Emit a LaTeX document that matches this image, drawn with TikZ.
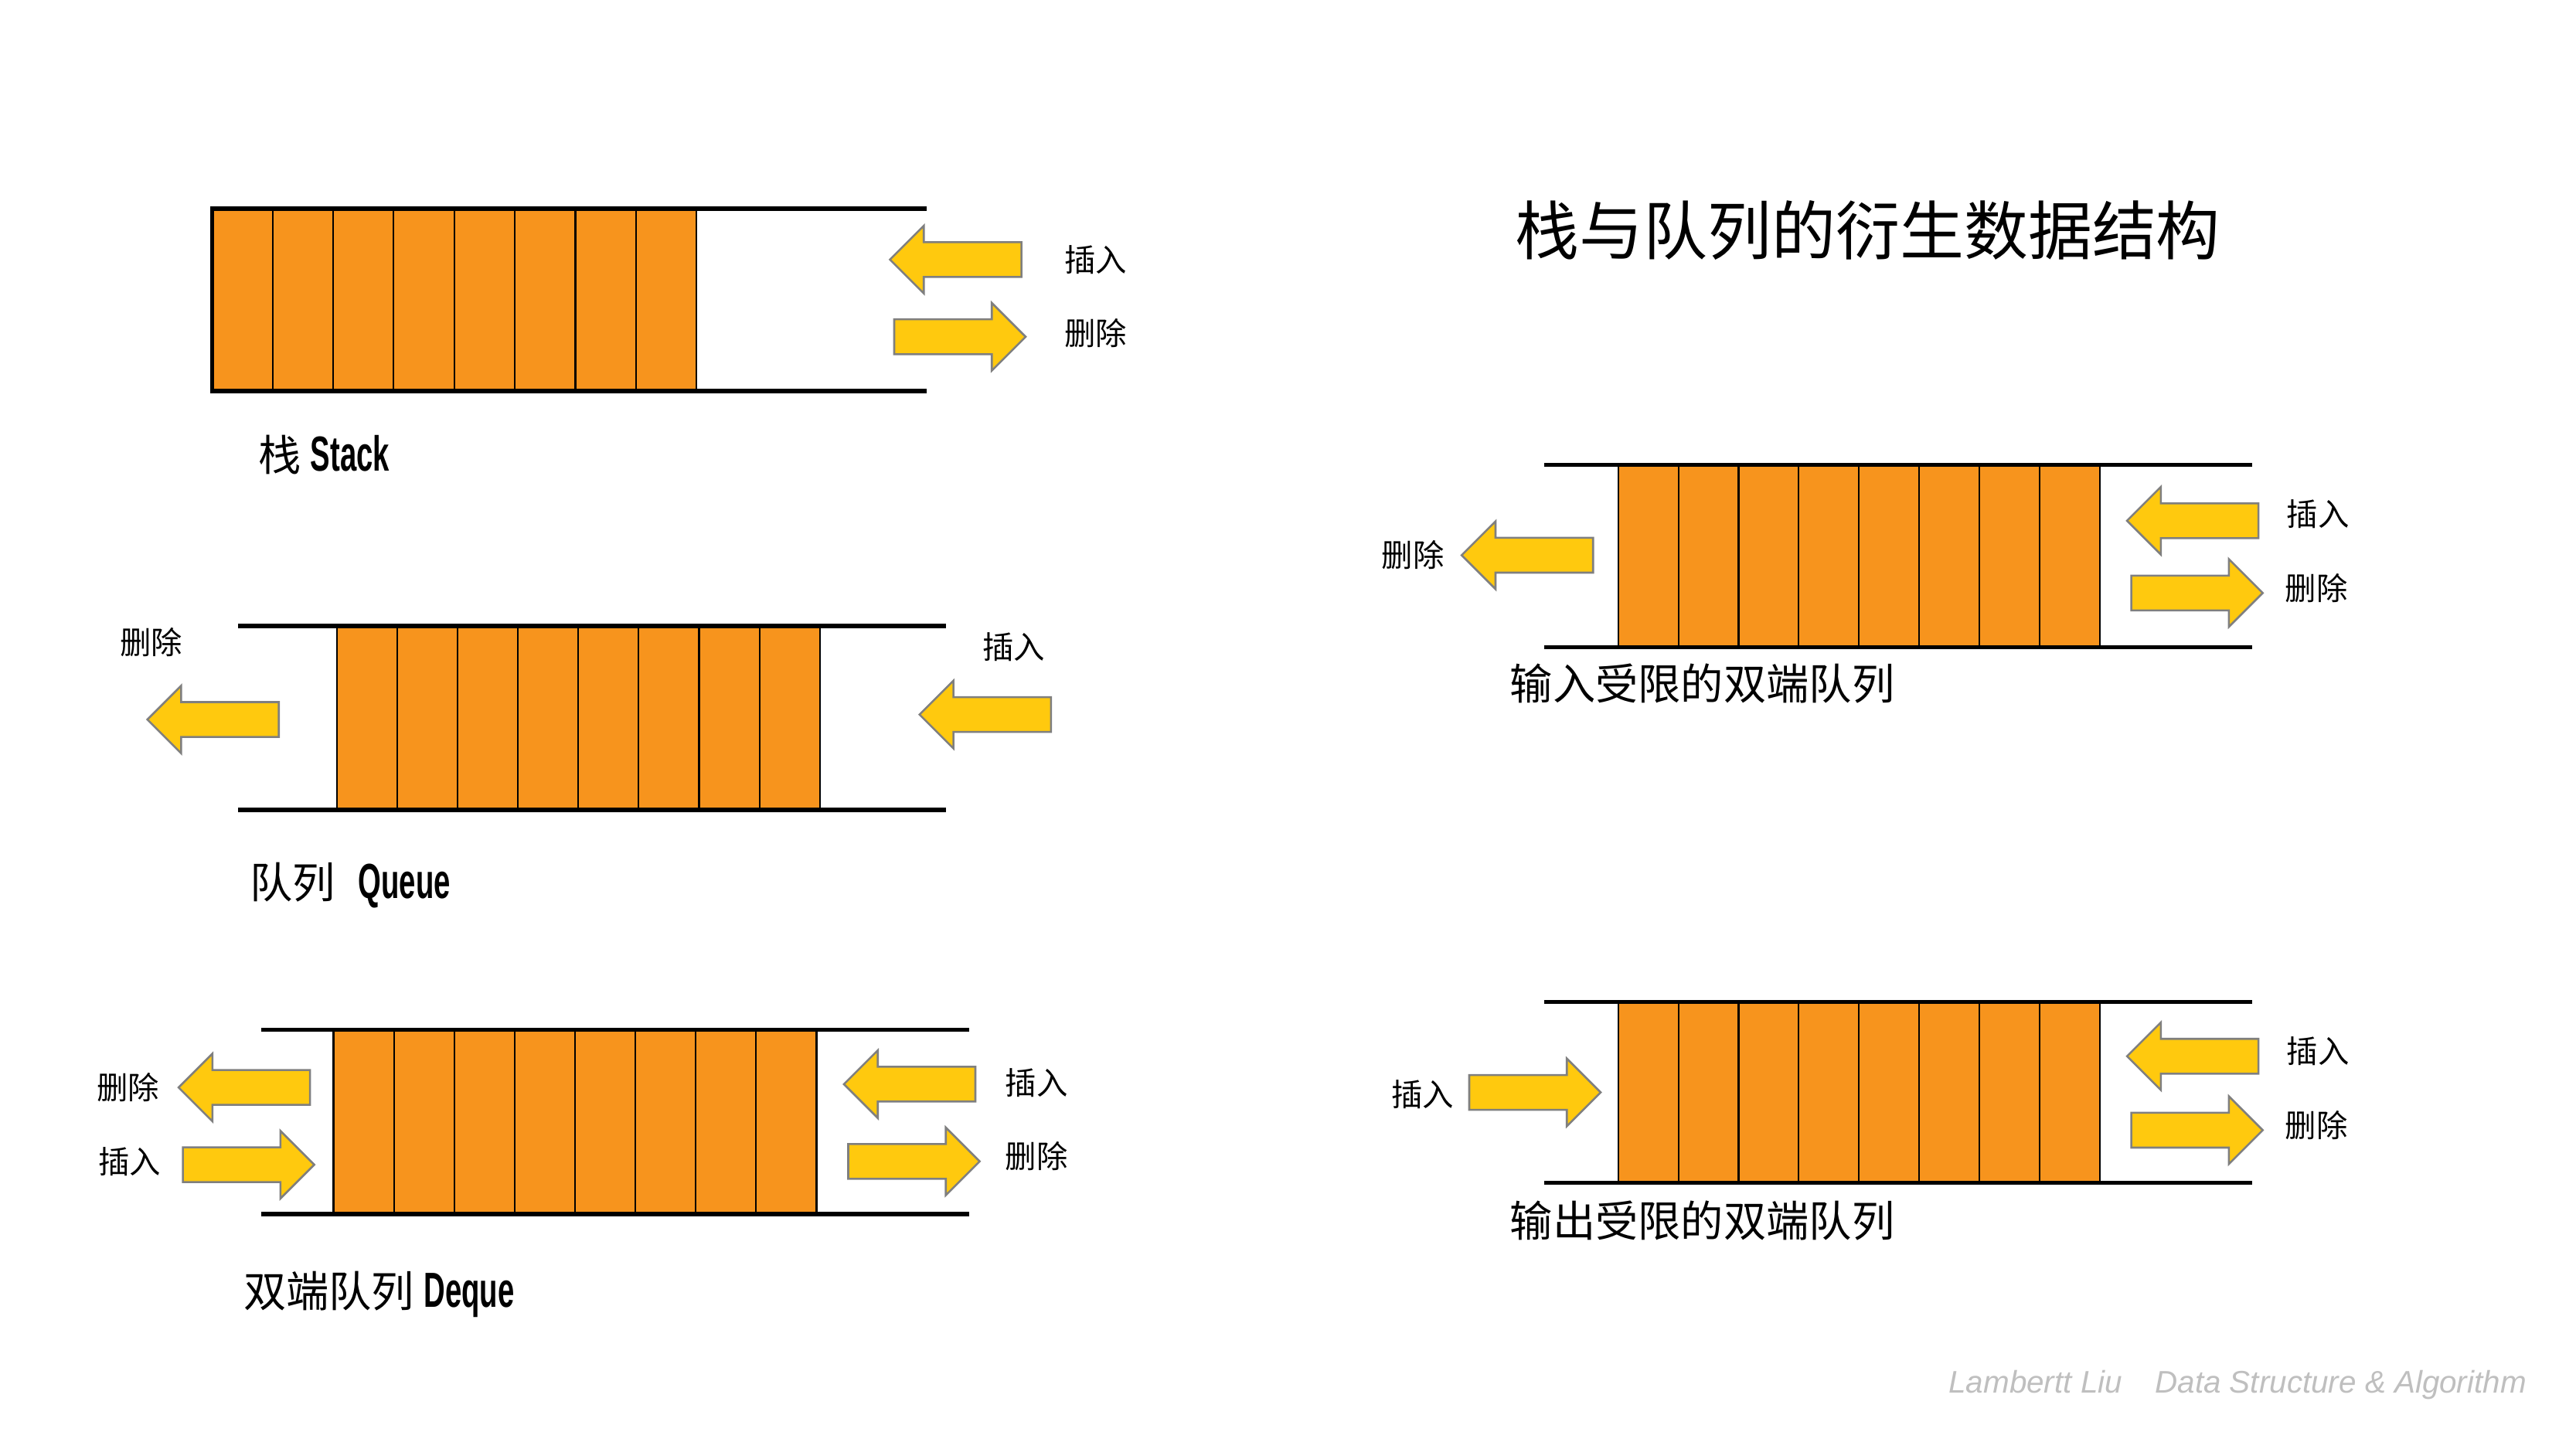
\documentclass[tikz,border=0pt]{standalone}
\usepackage{fontspec}
\setmainfont{Liberation Sans}
\newfontfamily\cjk{Noto Sans CJK SC}
\newfontfamily\condfont[FakeStretch=0.6]{Liberation Sans}
\usetikzlibrary{shapes.arrows}

\definecolor{cellorange}{HTML}{F7941D}
\definecolor{arrowyellow}{HTML}{FFC90E}
\definecolor{arrowgray}{HTML}{7F7F7F}

\begin{document}
\begin{tikzpicture}[x=1pt, y=-1pt]

\tikzset{
  cell/.style={fill=cellorange, draw=black, line width=1pt},
  rail/.style={draw=black, line width=2.5pt},
  barrow/.style={
    single arrow, draw=arrowgray, fill=arrowyellow, line width=1.2pt,
    minimum height=80pt, inner sep=10pt,
    single arrow head extend=10pt, single arrow tip angle=90,
    single arrow head indent=0pt
  },
  lbl/.style={font=\cjk\fontsize{19}{19}\selectfont, inner sep=0pt},
  caption/.style={font=\cjk\fontsize{26}{26}\selectfont, inner sep=0pt, anchor=west}
}

\fill[white] (0,0) rectangle (1568,882);
\useasboundingbox (0,0) rectangle (1568,882);

% =========================================================
% Stack
% =========================================================
\foreach \i in {0,...,7}
  \draw[cell] ({129+\i*36.875},127) rectangle ({129+(\i+1)*36.875},238);
\draw[rail, line join=miter] (564,127) -- (129,127) -- (129,238) -- (564,238);

\node[barrow, shape border rotate=180] (sIns) at (587,158) {};
\node[barrow] (sDel) at (579,205) {};
\node[lbl] (sInsL) at (667,158) {插入};
\node[lbl] (sDelL) at (667,203) {删除};
\node[caption] (sCap) at (157,277) {栈 {\condfont\bfseries\fontsize{30}{30}\selectfont Stack}};

% =========================================================
% Queue
% =========================================================
\foreach \i in {0,...,7}
  \draw[cell] ({205+\i*36.75},381) rectangle ({205+(\i+1)*36.75},493);
\draw[rail] (145,381) -- (576,381);
\draw[rail] (145,493) -- (576,493);

\node[barrow, shape border rotate=180] (qDel) at (135,438) {};
\node[barrow, shape border rotate=180] (qIns) at (605,435) {};
\node[lbl] (qDelL) at (92,391) {删除};
\node[lbl] (qInsL) at (617,394) {插入};
\node[caption] (qCap) at (152,539) {队列\hspace{14pt}{\condfont\bfseries\fontsize{30}{30}\selectfont Queue}};

% =========================================================
% Deque
% =========================================================
\foreach \i in {0,...,7}
  \draw[cell] ({203+\i*36.75},627) rectangle ({203+(\i+1)*36.75},739);
\draw[rail] (159,627) -- (590,627);
\draw[rail] (159,739) -- (590,739);

\node[barrow, shape border rotate=180] (dDelA) at (154,662) {};
\node[barrow] (dInsA) at (146,709) {};
\node[barrow, shape border rotate=180] (dInsB) at (559,660) {};
\node[barrow] (dDelB) at (551,707) {};
\node[lbl] (dDelAL) at (78,662) {删除};
\node[lbl] (dInsAL) at (79,707) {插入};
\node[lbl] (dInsBL) at (631,659) {插入};
\node[lbl] (dDelBL) at (631,704) {删除};
\node[caption] (dCap) at (148,788) {双端队列 {\condfont\bfseries\fontsize{30}{30}\selectfont Deque}};

% =========================================================
% Title
% =========================================================
\node[font=\cjk\fontsize{39}{39}\selectfont, inner sep=0pt] (title) at (1137,140) {栈与队列的衍生数据结构};

% =========================================================
% Input-restricted deque
% =========================================================
\foreach \i in {0,...,7}
  \draw[cell] ({985+\i*36.625},283) rectangle ({985+(\i+1)*36.625},394);
\draw[rail] (940,283) -- (1371,283);
\draw[rail] (940,394) -- (1371,394);

\node[barrow, shape border rotate=180] (iDel) at (935,338) {};
\node[barrow, shape border rotate=180] (iIns) at (1340,317) {};
\node[barrow] (iDelB) at (1332,361) {};
\node[lbl] (iDelL) at (860,338) {删除};
\node[lbl] (iInsL) at (1411,313) {插入};
\node[lbl] (iDelBL) at (1410,358) {删除};
\node[caption] (iCap) at (919,416) {输入受限的双端队列};

% =========================================================
% Output-restricted deque
% =========================================================
\foreach \i in {0,...,7}
  \draw[cell] ({985+\i*36.625},610) rectangle ({985+(\i+1)*36.625},720);
\draw[rail] (940,610) -- (1371,610);
\draw[rail] (940,720) -- (1371,720);

\node[barrow] (oIns) at (929,665) {};
\node[barrow, shape border rotate=180] (oInsB) at (1340,643) {};
\node[barrow] (oDel) at (1332,688) {};
\node[lbl] (oInsL) at (866,666) {插入};
\node[lbl] (oInsBL) at (1411,640) {插入};
\node[lbl] (oDelL) at (1410,685) {删除};
\node[caption] (oCap) at (919,743) {输出受限的双端队列};

% signature
\node[anchor=east, inner sep=0pt, text=black!25, font=\itshape\fontsize{19}{19}\selectfont] (sign)
  at (1538,843) {Lambertt Liu\hspace{20pt}Data Structure \& Algorithm};

\end{tikzpicture}
\end{document}
